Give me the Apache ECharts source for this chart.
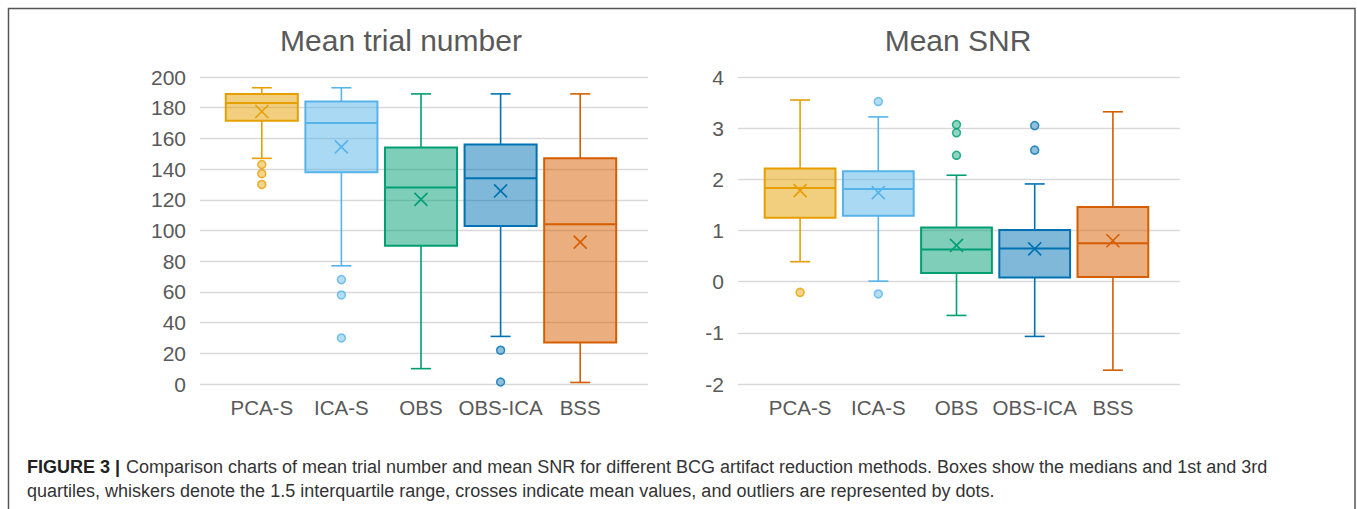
<!DOCTYPE html>
<html><head><meta charset="utf-8">
<script src="https://cdn.jsdelivr.net/npm/echarts@6/dist/echarts.min.js"></script>
<style>html,body{margin:0;padding:0;background:#fff}#c{width:1357px;height:509px}</style>
</head><body><div id="c"></div><script>
const categories = ['PCA-S', 'ICA-S', 'OBS', 'OBS-ICA', 'BSS'];

const trialMin    = [147, 77, 10, 31, 1];
const trialQ1     = [171.5, 138, 90, 103, 27];
const trialMedian = [183, 170, 128, 134, 104];
const trialQ3     = [189, 184, 154, 156, 147];
const trialMax    = [193, 193, 189, 189, 189];
const trialMean   = [177.5, 154.5, 120.3, 125.8, 92.4];
const trialOutliers = [[143, 137, 130], [68, 58, 30], [], [22, 1.3], []];

const snrMin    = [0.39, 0.01, -0.66, -1.07, -1.73];
const snrQ1     = [1.25, 1.29, 0.17, 0.08, 0.09];
const snrMedian = [1.83, 1.81, 0.63, 0.65, 0.75];
const snrQ3     = [2.21, 2.16, 1.06, 1.01, 1.46];
const snrMax    = [3.55, 3.22, 2.08, 1.91, 3.32];
const snrMean   = [1.78, 1.74, 0.71, 0.64, 0.80];
const snrOutliers = [[-0.21], [3.52, -0.24], [3.07, 2.91, 2.47], [3.05, 2.57], []];

const trialTicks = { min: 0, max: 200, interval: 20 };
const snrTicks = { min: -2, max: 4, interval: 1 };

const titles = ['Mean trial number', 'Mean SNR'];
const captionBold = 'FIGURE 3 |';
const captionLine1 = 'Comparison charts of mean trial number and mean SNR for different BCG artifact reduction methods. Boxes show the medians and 1st and 3rd';
const captionLine2 = 'quartiles, whiskers denote the 1.5 interquartile range, crosses indicate mean values, and outliers are represented by dots.';

const colors = ['#E69F00', '#56B4E9', '#009E73', '#0072B2', '#D55E00'];
const FONT = '"Liberation Sans", Arial, sans-serif';
const TXT = '#595959';

function hexA(h, a) {
  const n = parseInt(h.slice(1), 16);
  return 'rgba(' + (n >> 16 & 255) + ',' + (n >> 8 & 255) + ',' + (n & 255) + ',' + a + ')';
}
function hexMix(h, t) {
  const n = parseInt(h.slice(1), 16);
  const f = c => Math.round(c + (255 - c) * t);
  return 'rgb(' + f(n >> 16 & 255) + ',' + f(n >> 8 & 255) + ',' + f(n & 255) + ')';
}

function boxRows(mn, q1, md, q3, mx, mean) {
  return categories.map((c, i) => [i, mn[i], q1[i], md[i], q3[i], mx[i], mean[i]]);
}
function outlierRows(outs) {
  const res = [];
  outs.forEach((arr, i) => arr.forEach(v => res.push({
    value: [i, v],
    itemStyle: { color: hexMix(colors[i], 0.45), borderColor: colors[i], borderWidth: 1.5 }
  })));
  return res;
}

function renderBox(params, api) {
  const i = api.value(0);
  const y = v => api.coord([i, v])[1];
  const x = api.coord([i, api.value(3)])[0];
  const band = api.size([1, 0])[0];
  const bw = band * 0.905;
  const cap = 10;
  const col = colors[i];
  const yMin = y(api.value(1)), yQ1 = y(api.value(2)), yMed = y(api.value(3)),
        yQ3 = y(api.value(4)), yMax = y(api.value(5)), yMean = y(api.value(6));
  const ls = { stroke: col, lineWidth: 1.6, fill: null };
  const m = 6.5;
  return {
    type: 'group',
    children: [
      { type: 'line', shape: { x1: x, y1: yQ3, x2: x, y2: yMax }, style: ls },
      { type: 'line', shape: { x1: x, y1: yQ1, x2: x, y2: yMin }, style: ls },
      { type: 'line', shape: { x1: x - cap, y1: yMax, x2: x + cap, y2: yMax }, style: ls },
      { type: 'line', shape: { x1: x - cap, y1: yMin, x2: x + cap, y2: yMin }, style: ls },
      { type: 'rect', shape: { x: x - bw / 2, y: yQ3, width: bw, height: yQ1 - yQ3 },
        style: { fill: hexA(col, 0.5), stroke: col, lineWidth: 2 } },
      { type: 'line', shape: { x1: x - bw / 2, y1: yMed, x2: x + bw / 2, y2: yMed }, style: { stroke: col, lineWidth: 2 } },
      { type: 'line', shape: { x1: x - m, y1: yMean - m, x2: x + m, y2: yMean + m }, style: { stroke: col, lineWidth: 1.6 } },
      { type: 'line', shape: { x1: x - m, y1: yMean + m, x2: x + m, y2: yMean - m }, style: { stroke: col, lineWidth: 1.6 } }
    ]
  };
}

const gridTop = 77, gridH = 307;
const grids = [
  { left: 200, top: gridTop, width: 448, height: gridH },
  { left: 222, top: gridTop, width: 398, height: gridH },
  { left: 738, top: gridTop, width: 442, height: gridH },
  { left: 761, top: gridTop, width: 391, height: gridH }
];

function gridX(idx) {
  return { gridIndex: idx, type: 'value', min: 0, max: 1, show: false };
}
function catX(idx) {
  return {
    gridIndex: idx, type: 'category', data: categories, boundaryGap: true,
    axisLine: { show: false }, axisTick: { show: false }, splitLine: { show: false },
    axisLabel: { color: TXT, fontSize: 20.5, fontFamily: FONT, margin: 13, interval: 0 }
  };
}
function valY(idx, t, show) {
  return {
    gridIndex: idx, type: 'value', min: t.min, max: t.max, interval: t.interval,
    show: show,
    axisLine: { show: false }, axisTick: { show: false },
    axisLabel: { color: TXT, fontSize: 21, fontFamily: FONT, margin: 14 },
    splitLine: { show: show, lineStyle: { color: '#D9D9D9', width: 1.3 } }
  };
}

const option = {
  backgroundColor: '#fff',
  animation: false,
  grid: grids,
  xAxis: [gridX(0), catX(1), gridX(2), catX(3)],
  yAxis: [valY(0, trialTicks, true), valY(1, trialTicks, false), valY(2, snrTicks, true), valY(3, snrTicks, false)],
  series: [
    { type: 'custom', xAxisIndex: 1, yAxisIndex: 1, renderItem: renderBox, clip: false,
      encode: { x: 0, y: [1, 2, 3, 4, 5, 6] },
      data: boxRows(trialMin, trialQ1, trialMedian, trialQ3, trialMax, trialMean) },
    { type: 'scatter', xAxisIndex: 1, yAxisIndex: 1, symbol: 'circle', symbolSize: 8, clip: false,
      data: outlierRows(trialOutliers), z: 3 },
    { type: 'custom', xAxisIndex: 3, yAxisIndex: 3, renderItem: renderBox, clip: false,
      encode: { x: 0, y: [1, 2, 3, 4, 5, 6] },
      data: boxRows(snrMin, snrQ1, snrMedian, snrQ3, snrMax, snrMean) },
    { type: 'scatter', xAxisIndex: 3, yAxisIndex: 3, symbol: 'circle', symbolSize: 8, clip: false,
      data: outlierRows(snrOutliers), z: 3 }
  ],
  graphic: [
    { type: 'rect', silent: true, shape: { x: 8.5, y: 8.5, width: 1346.5, height: 540 },
      style: { fill: 'none', stroke: '#555555', lineWidth: 1.5 } },
    { type: 'text', x: 401, y: 40, style: { text: titles[0], textAlign: 'center', align: 'center',
      textVerticalAlign: 'middle', verticalAlign: 'middle', fontSize: 30, fontFamily: FONT, fill: TXT } },
    { type: 'text', x: 958, y: 40, style: { text: titles[1], textAlign: 'center', align: 'center',
      textVerticalAlign: 'middle', verticalAlign: 'middle', fontSize: 30, fontFamily: FONT, fill: TXT } },
    { type: 'text', x: 27, y: 467, style: { text: captionBold, textVerticalAlign: 'middle', verticalAlign: 'middle',
      fontSize: 18, fontWeight: 'bold', fontFamily: FONT, fill: '#222' } },
    { type: 'text', x: 126, y: 467, style: { text: captionLine1, textVerticalAlign: 'middle', verticalAlign: 'middle',
      fontSize: 18, fontFamily: FONT, fill: '#333' } },
    { type: 'text', x: 27, y: 491, style: { text: captionLine2, textVerticalAlign: 'middle', verticalAlign: 'middle',
      fontSize: 18, fontFamily: FONT, fill: '#333' } }
  ]
};

const chart = echarts.init(document.getElementById('c'), null, { renderer: 'svg' });
chart.setOption(option);
</script></body></html>
